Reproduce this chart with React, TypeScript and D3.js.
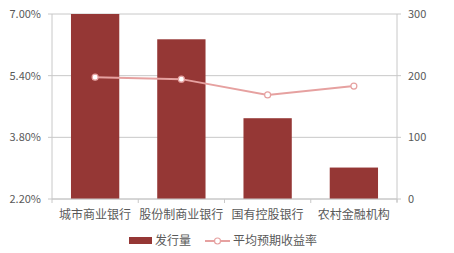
import React from "react";
import * as d3 from "d3";

const categories = ["城市商业银行", "股份制商业银行", "国有控股银行", "农村金融机构"];
const volume = [300, 259, 131, 51];
const avgYield = [5.36, 5.31, 4.9, 5.13];
const leftTicks = [2.2, 3.8, 5.4, 7.0];
const rightTicks = [0, 100, 200, 300];

const W = 454, H = 253;
const L = 52, R = 397, T = 14, B = 199;
const BAR = "#953735";
const LINE = "#e6a1a0";
const GRID = "#c8c8c8";
const TXT = "#595959";
const FONT = "'Microsoft YaHei', 'Noto Sans CJK SC', sans-serif";

export default function App() {
  const x = d3.scaleBand<string>().domain(categories).range([L, R]).paddingInner(0.44).paddingOuter(0.22);
  const band = d3.scaleBand<string>().domain(categories).range([L, R]);
  const yL = d3.scaleLinear().domain([2.2, 7.0]).range([B, T]);
  const yR = d3.scaleLinear().domain([0, 300]).range([B, T]);
  const line = d3.line<number>()
    .x((_, i) => (band(categories[i]) as number) + band.bandwidth() / 2)
    .y((d) => yL(d));
  const bounds = [...categories.map((c) => band(c) as number), R];
  return (
    <svg width={W} height={H} style={{ position: "absolute", left: 0, top: 0, fontFamily: FONT }}>
      <rect width={W} height={H} fill="#fff" />
      {leftTicks.map((t) => (
        <line key={"g" + t} x1={L} x2={R} y1={yL(t)} y2={yL(t)} stroke={GRID} strokeWidth={1} />
      ))}
      {categories.map((c, i) => (
        <rect key={c} x={x(c)} width={x.bandwidth()} y={yR(volume[i])} height={B - yR(volume[i])} fill={BAR} />
      ))}
      <line x1={L} x2={L} y1={T} y2={B} stroke={GRID} />
      <line x1={R} x2={R} y1={T} y2={B + 3} stroke={GRID} />
      <line x1={L} x2={R} y1={B} y2={B} stroke={GRID} />
      {bounds.map((b, i) => (
        <line key={"bt" + i} x1={b} x2={b} y1={B} y2={B + 4} stroke={GRID} />
      ))}
      {leftTicks.map((t) => (
        <g key={"l" + t}>
          <line x1={L - 4} x2={L} y1={yL(t)} y2={yL(t)} stroke={GRID} />
          <text x={L - 11} y={yL(t)} dy="0.35em" textAnchor="end" fontSize={11} fill={TXT}>
            {t.toFixed(2) + "%"}
          </text>
        </g>
      ))}
      {rightTicks.map((t) => (
        <g key={"r" + t}>
          <line x1={R} x2={R + 4} y1={yR(t)} y2={yR(t)} stroke={GRID} />
          <text x={R + 11} y={yR(t)} dy="0.35em" textAnchor="start" fontSize={11} fill={TXT}>
            {t}
          </text>
        </g>
      ))}
      {categories.map((c) => (
        <text key={"c" + c} x={(band(c) as number) + band.bandwidth() / 2} y={215} dy="0.35em" textAnchor="middle" fontSize={12} fill={TXT}>
          {c}
        </text>
      ))}
      <path d={line(avgYield) || ""} fill="none" stroke={LINE} strokeWidth={2} />
      {avgYield.map((v, i) => (
        <circle key={"p" + i} cx={(band(categories[i]) as number) + band.bandwidth() / 2} cy={yL(v)} r={3} fill="#fff" stroke={LINE} strokeWidth={1.2} />
      ))}
      <rect x={129} y={237} width={23} height={7} fill={BAR} />
      <text x={155} y={241} dy="0.35em" fontSize={12} fill={TXT}>发行量</text>
      <line x1={205} x2={230} y1={241} y2={241} stroke={LINE} strokeWidth={2} />
      <circle cx={217.5} cy={241} r={3} fill="#fff" stroke={LINE} strokeWidth={1.2} />
      <text x={233} y={241} dy="0.35em" fontSize={12} fill={TXT}>平均预期收益率</text>
    </svg>
  );
}
